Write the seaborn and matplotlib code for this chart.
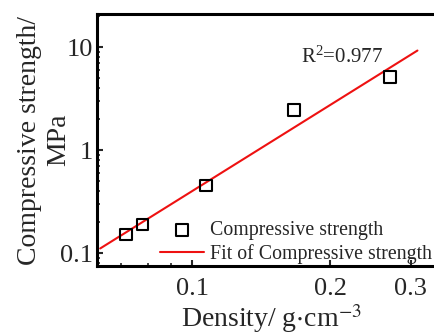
import matplotlib
matplotlib.use('Agg')
import matplotlib.pyplot as plt
import matplotlib.ticker as mticker
import pandas as pd
import seaborn as sns

# Data
density = [0.0717, 0.0779, 0.1073, 0.1665, 0.2704]
strength = [0.152, 0.189, 0.454, 2.46, 5.13]
fit_density = [0.063, 0.31]
fit_strength = [0.111, 9.29]
x_ticks = [0.1, 0.2, 0.3]
x_labels = ['0.1', '0.2', '0.3']
y_ticks = [0.1, 1, 10]
y_labels = ['0.1', '1', '10']

df = pd.DataFrame({'density': density, 'strength': strength})
df_fit = pd.DataFrame({'density': fit_density, 'strength': fit_strength})

sns.set_style('ticks')
plt.rcParams['font.family'] = ['Liberation Serif', 'DejaVu Serif']
plt.rcParams['mathtext.fontset'] = 'stix'

fig = plt.figure(figsize=(4.35, 3.35), dpi=100)
ax = fig.add_axes([0.223, 0.206, 0.80, 0.752])

sns.scatterplot(data=df, x='density', y='strength', ax=ax, marker='s',
                s=70, facecolor='none', edgecolor='black', linewidth=1.5,
                label='Compressive strength', zorder=3)
sns.lineplot(data=df_fit, x='density', y='strength', ax=ax, color='#ee1111',
             linewidth=1.5, label='Fit of Compressive strength', zorder=2)

ax.set_xscale('log')
ax.set_yscale('log')
ax.set_xlim(0.062, 0.356)
ax.set_ylim(0.075, 21)

ax.xaxis.set_major_locator(mticker.FixedLocator(x_ticks))
ax.xaxis.set_major_formatter(mticker.FixedFormatter(x_labels))
ax.xaxis.set_minor_locator(mticker.LogLocator(base=10, subs=[2, 3, 4, 5, 6, 7, 8, 9]))
ax.xaxis.set_minor_formatter(mticker.NullFormatter())
ax.yaxis.set_major_locator(mticker.FixedLocator(y_ticks))
ax.yaxis.set_major_formatter(mticker.FixedFormatter(y_labels))
ax.yaxis.set_minor_locator(mticker.LogLocator(base=10, subs=[2, 3, 4, 5, 6, 7, 8, 9]))
ax.yaxis.set_minor_formatter(mticker.NullFormatter())

ax.tick_params(which='major', direction='in', length=4, width=1.5, labelsize=19, pad=3)
ax.tick_params(axis='x', which='major', pad=9)
ax.tick_params(which='minor', direction='in', length=2.5, width=1.2)

for s in ax.spines.values():
    s.set_linewidth(2.2)
    s.set_color('black')

ax.set_xlabel('Density/ g$\\cdot$cm$^{-3}$', fontsize=20, labelpad=1)
# two-line y label: first line as the axis label, second line beside it
ax.set_ylabel('Compressive strength/', fontsize=20, labelpad=13)
ax.text(-0.11, 0.5, 'MPa', transform=ax.transAxes, fontsize=20,
        rotation=90, ha='center', va='center')

ax.text(0.212, 8.0, '$\\mathregular{R^2}$=0.977', fontsize=15, ha='center', va='center')

ax.legend(loc='lower right', frameon=False, fontsize=14.3, handlelength=2.2,
          handletextpad=0.3, borderaxespad=0.0, labelspacing=0.2,
          bbox_to_anchor=(0.985, -0.025))

fig.savefig('out.png', dpi=100)
